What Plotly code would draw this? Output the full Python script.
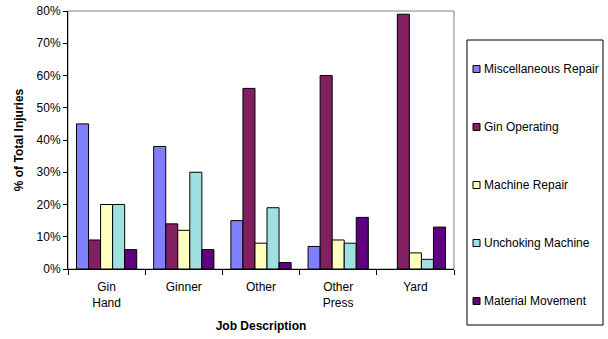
import plotly.graph_objects as go

categories = ["Gin<br>Hand", "Ginner", "Other", "Other<br>Press", "Yard"]
misc_repair = [45, 38, 15, 7, 0]
gin_operating = [9, 14, 56, 60, 79]
machine_repair = [20, 12, 8, 9, 5]
unchoking = [20, 30, 19, 8, 3]
material_movement = [6, 6, 2, 16, 13]

series_names = ["Miscellaneous Repair", "Gin Operating", "Machine Repair",
                "Unchoking Machine", "Material Movement"]
series_values = [misc_repair, gin_operating, machine_repair, unchoking, material_movement]
series_colors = ["#8080FF", "#802060", "#FFFFC0", "#A0E0E0", "#600080"]

FONT = "Liberation Sans, Arial, sans-serif"

# plot area in pixels
L, R, T, B = 68, 454, 11, 269
W, H = 608, 339

def px_x(px):
    return (px - L) / (R - L)

def px_y(py):
    return (B - py) / (B - T)

fig = go.Figure()
for name, vals, col in zip(series_names, series_values, series_colors):
    fig.add_trace(go.Bar(
        x=categories, y=[v / 100 for v in vals], name=name,
        showlegend=False,
        marker=dict(color=col,
                    line=dict(color="black", width=[0 if v == 0 else 1 for v in vals])),
    ))

shapes = [
    # grey plot-area frame (top/right)
    dict(type="rect", xref="paper", yref="paper", x0=0, x1=1, y0=0, y1=1,
         line=dict(color="#808080", width=1), layer="below"),
    # legend box
    dict(type="rect", xref="paper", yref="paper",
         x0=px_x(467), x1=px_x(603), y0=px_y(325), y1=px_y(40),
         line=dict(color="black", width=1), fillcolor="white"),
]
annotations = []
for i, (name, col) in enumerate(zip(series_names, series_colors)):
    cy = 69 + 58 * i
    shapes.append(dict(type="rect", xref="paper", yref="paper",
                       x0=px_x(473), x1=px_x(480), y0=px_y(cy + 3.5), y1=px_y(cy - 3.5),
                       line=dict(color="black", width=1), fillcolor=col))
    annotations.append(dict(xref="paper", yref="paper", x=px_x(482), y=px_y(cy),
                            xanchor="left", yanchor="middle", showarrow=False,
                            text=name, font=dict(family=FONT, size=12, color="black")))

fig.update_layout(
    width=W, height=H,
    margin=dict(l=L, r=W - R, t=T, b=H - B),
    paper_bgcolor="white", plot_bgcolor="white",
    font=dict(family=FONT, size=12, color="black"),
    barmode="group", bargap=0.22, bargroupgap=0,
    showlegend=False,
    shapes=shapes, annotations=annotations,
)
fig.update_yaxes(
    range=[0, 0.8], dtick=0.1, tickformat=".0%",
    showgrid=False, zeroline=False, automargin=False,
    showline=True, linecolor="black", linewidth=1,
    ticks="outside", ticklen=4, tickcolor="black",
    title=dict(text="<b>% of Total Injuries</b>", font=dict(size=12), standoff=10),
)
fig.update_xaxes(
    showgrid=False, showline=True, linecolor="black", linewidth=1,
    automargin=False,
    ticks="outside", ticklen=5, tickcolor="black", tickson="boundaries",
    ticklabelstandoff=7,
    title=dict(text="<b>Job Description</b>", font=dict(size=12), standoff=12),
)
fig.write_html("out.html")
